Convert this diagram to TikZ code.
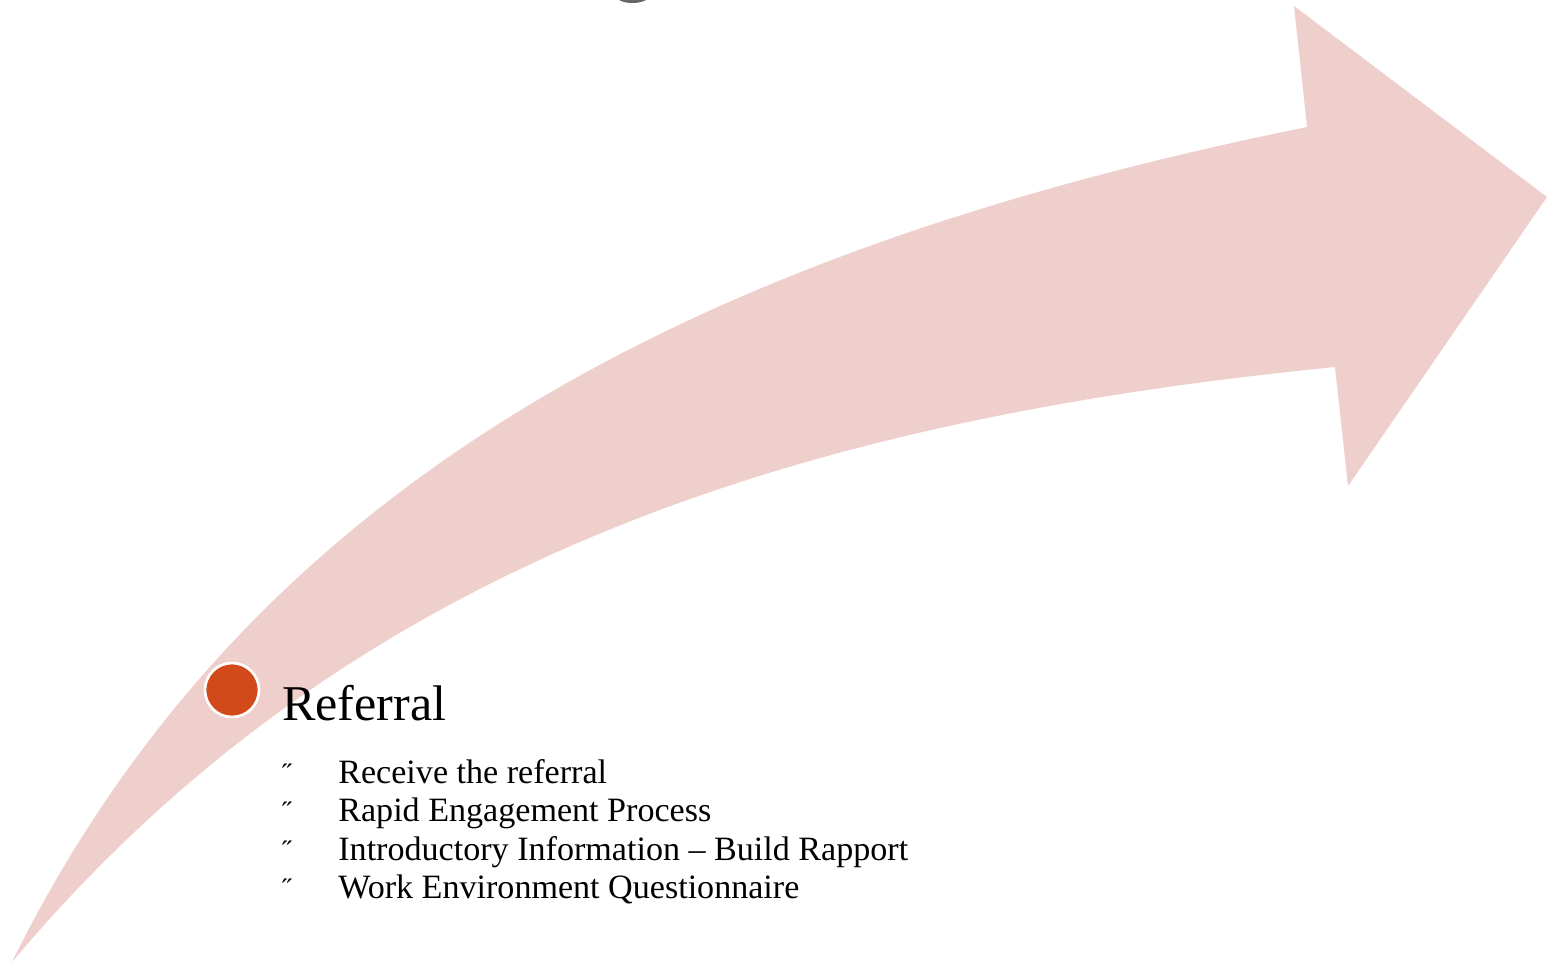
\documentclass[tikz,border=0pt]{standalone}
\usepackage{fontspec}
\setmainfont{Liberation Serif}
\usetikzlibrary{positioning}
\definecolor{bandpink}{HTML}{EFCFCC}
\definecolor{dotred}{HTML}{D24A1A}

\begin{document}
\begin{tikzpicture}[x=0.02cm,y=-0.02cm,node distance=0.77cm,on grid,
		band/.style={fill=bandpink,draw=none},
		dot/.style={circle,fill=dotred,draw=white,line width=1.5pt,minimum size=1.08cm,inner sep=0pt},
		title/.style={inner sep=0pt,anchor=base west,font=\fontsize{28.5}{34}\selectfont},
		item/.style={inner sep=0pt,anchor=base west,font=\fontsize{19.4}{23}\selectfont,text height=0.7em,text depth=0.25em},
		bulletmark/.style={inner sep=0pt,font=\fontsize{16}{18}\selectfont,text height=0.7em,text depth=0.25em}]
	\useasboundingbox (0,0) rectangle (1550,965);
	% the curved arrow
	\fill[band] (12,962) .. controls (250,480) and (700,250) .. (1307,127)
		-- (1294,6) -- (1547,197) -- (1348,486) -- (1335,367)
		.. controls (800,420) and (350,560) .. (12,962) -- cycle;
	% bit of a cut off title
	\fill[gray!80!black] (619,0) .. controls (626,4) and (639,4) .. (646,0) -- cycle;
	\node[dot] (d) at (232,690) {};
	\node[title] (ttl) at (282,720) {Referral};
	\node[item] (i1) at (338,783) {Receive the referral};
	\node[item] (i2) [below=of i1.west,anchor=west] {Rapid Engagement Process};
	\node[item] (i3) [below=of i2.west,anchor=west] {Introductory Information – Build Rapport};
	\node[item] (i4) [below=of i3.west,anchor=west] {Work Environment Questionnaire};
	\node[bulletmark] (m1) [left=1.12cm of i1.west,anchor=west] {˝};
	\node[bulletmark] (m2) [left=1.12cm of i2.west,anchor=west] {˝};
	\node[bulletmark] (m3) [left=1.12cm of i3.west,anchor=west] {˝};
	\node[bulletmark] (m4) [left=1.12cm of i4.west,anchor=west] {˝};
\end{tikzpicture}
\end{document}
